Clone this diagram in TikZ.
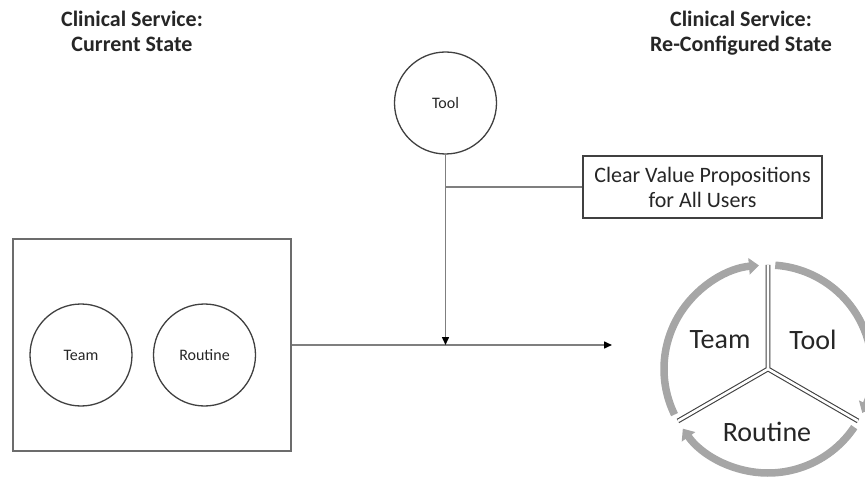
\documentclass[tikz,border=0pt]{standalone}
\usepackage{fontspec}
\setmainfont{Carlito}
\usetikzlibrary{arrows.meta}

\definecolor{linegray}{HTML}{7F7F7F}
\definecolor{ringgray}{HTML}{A6A6A6}
\definecolor{edgegray}{HTML}{404040}
\definecolor{inkgray}{HTML}{262626}

\tikzset{
    heading/.style={align=center, inner sep=0pt, text=inkgray, font=\bfseries\fontsize{22}{25}\selectfont},
    unit/.style={circle, draw=edgegray, line width=1.3pt, minimum size=102pt, inner sep=0pt, text=inkgray, font=\fontsize{16}{19}\selectfont},
    frame/.style={draw=linegray!85!black, line width=2pt, minimum width=278pt, minimum height=212pt, inner sep=0pt},
    valuebox/.style={draw=edgegray, line width=1.3pt, minimum width=239pt, minimum height=62pt, align=center, text=inkgray, font=\fontsize{22}{25}\selectfont},
    link/.style={draw=linegray, line width=1.5pt},
    ring/.style={draw=ringgray, line width=7.5pt, -{Triangle[width=16pt,length=10pt]}},
    divider/.style={draw=edgegray, double=white, double distance=2.6pt, line width=1.1pt},
    sector/.style={text=inkgray, font=\fontsize{28}{32}\selectfont}
}

\begin{document}
\begin{tikzpicture}[x=1pt,y=1pt]
    \useasboundingbox (0,0) rectangle (865,-481);

    % titles
    \node[heading, anchor=base] (cur) at (132,-52) {Clinical Service:\\Current State};
    \node[heading, anchor=base] (rec) at (741,-52) {Clinical Service:\\Re-Configured State};

    % current state
    \node[frame] (svc) at (152,-345) {};
        \node[unit] (team) at (81,-355) {Team};
        \node[unit] (routine) at (204.5,-355) {Routine};

    % tool and value
    \node[unit] (tool) at (445.5,-103) {Tool};
    \node[valuebox] (value) at (702.5,-187) {Clear Value Propositions\\for All Users};

    \coordinate (target) at (612,-345);
    \coordinate (merge) at (tool.south |- svc.east);
    \coordinate (branch) at (tool.south |- value.west);

    \draw[link, -{Triangle[length=8pt,width=7pt,color=black]}] (svc.east) -- (target);
    \draw[link, -{Triangle[length=8pt,width=7pt,color=black]}] (tool.south) -- (merge);
    \draw[link] (branch) -- (value.west);

    % re-configured state
    \coordinate (hub) at (768,-369);
    \draw[divider] (hub) -- +(90:104) (hub) -- +(-30:104) (hub) -- +(210:104);
    \draw[ring] (hub) +(206:104) arc[start angle=206, end angle=95, radius=104];
    \draw[ring] (hub) +(86:104) arc[start angle=86, end angle=-25, radius=104];
    \draw[ring] (hub) +(-34:104) arc[start angle=-34, end angle=-145, radius=104];
        \node[sector] (steam) at (720,-340) {Team};
        \node[sector] (stool) at (813,-340) {Tool};
        \node[sector] (sroutine) at (767,-432) {Routine};

\end{tikzpicture}
\end{document}
